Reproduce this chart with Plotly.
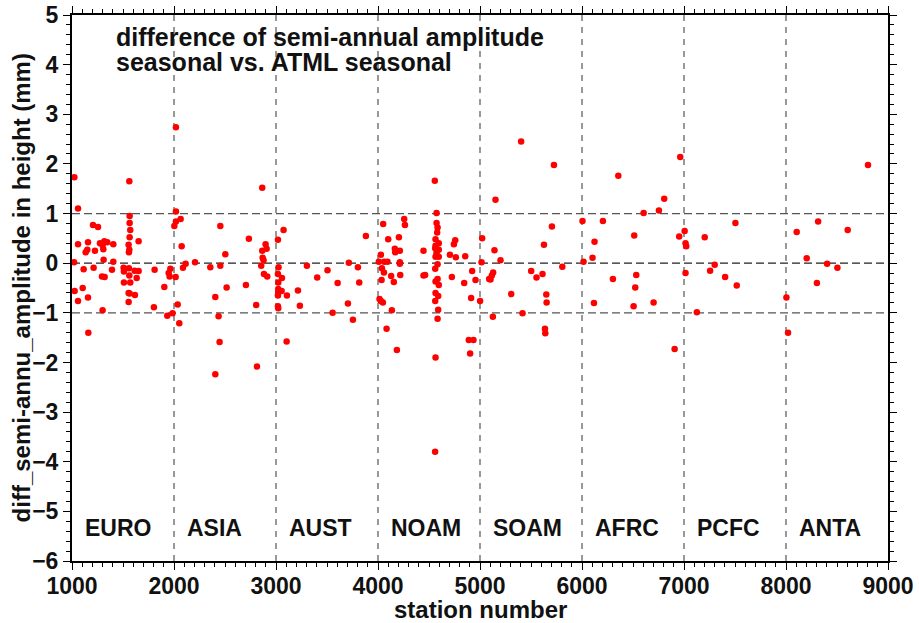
import plotly.graph_objects as go

# ---- data ----
station = [
    1023, 1059, 1562, 2019, 2865, 1020, 1059, 1026, 1059, 1105, 1114, 1157, 1160, 1134, 1150,
    1157, 1206, 1255, 1212, 1225, 1274, 1300, 1307, 1317, 1346, 1405, 1310, 1294, 1320, 1300,
    1392, 1405, 1506, 1509, 1558, 1565, 1565, 1571, 1565, 1555, 1562, 1558, 1614, 1653, 1653,
    1634, 1562, 1509, 1571, 1555, 1565, 1617, 1555, 1810, 1803, 1905, 1934, 1986, 1964, 1948,
    1957, 2016, 2036, 2052, 2003, 2019, 2065, 2019, 2075, 2088, 2114, 2206, 2356, 2454, 2503,
    2454, 2516, 2405, 2437, 2447, 2405, 2734, 2705, 2806, 2813, 2898, 2865, 2908, 2869, 2878,
    2855, 2882, 2914,
    4557, 3019, 3074, 3025, 3019, 3058, 3022, 3022, 3055, 3022, 3019, 3107, 3215, 3234, 3019,
    3022, 3104, 3303, 3404, 3505, 3604, 3555, 3714, 3705, 3754, 3803, 3816, 3881, 4051, 4257,
    4264, 4100, 4205, 4165, 4169, 4214, 4028, 4008, 4061, 4093, 4214, 4214, 4038, 4058, 4035,
    4129, 4155, 4218, 4015, 4028, 4048, 4136, 4084, 4185, 4446, 4446, 4462, 4574, 4574, 4584,
    4580, 4564, 4596, 4564, 4574, 4564, 4596, 4584, 4561, 4584, 4564, 4596, 4564, 4590, 4561,
    4590, 4584, 4564, 4596, 4561, 4574, 4705, 4744, 4757, 4763, 4724, 4855, 4845, 4923, 4956,
    4913, 5001, 5021, 5015, 4890, 4936, 4903, 5090, 4560,
    5403, 5725, 5152, 5142, 5201, 5129, 5116, 5103, 5126, 5306, 5417, 5502, 5554, 5613, 5627,
    5705, 5807, 5650, 5653, 5637, 5640, 6005, 6015, 6103, 6123, 6205, 6117, 6303, 6356, 6512,
    6532, 6522, 6506, 6604, 6702, 6754, 6806, 6963, 6953, 7006, 7015, 7022, 7015, 6908, 7126,
    8804, 7203, 7504, 7301, 7256, 7403, 7517, 8004, 8020, 8105, 8315, 8605, 8203, 8403, 8504,
    8303,
]
diff_amp = [
    1.73, 1.10, 1.65, 2.74, 1.52, 0.02, 0.38, -0.56, -0.76, -0.50, -0.12, -0.69, -1.40, 0.22, 0.27,
    0.42, 0.77, 0.73, -0.09, 0.25, 0.40, 0.36, 0.28, 0.44, 0.42, 0.38, 0.07, -0.27, -0.28, -0.95,
    -0.13, 0.03, -0.09, -0.17, -0.10, 0.95, 0.81, 0.67, 0.52, 0.37, 0.27, 0.22, -0.15, -0.16, 0.44,
    -0.30, -0.25, -0.39, -0.39, -0.60, -0.61, -0.64, -0.78, -0.13, -0.89, -0.48, -1.06, -1.01, -0.11, -0.20,
    -0.27, -0.28, -0.83, -1.21, 0.75, 0.84, 0.89, 1.04, 0.34, -0.09, -0.01, 0.02, -0.08, 0.75, 0.18,
    -0.05, -0.49, -0.68, -1.07, -1.59, -2.24, 0.49, -0.44, -0.84, -2.08, 0.38, 0.25, 0.29, 0.11, 0.06,
    -0.05, -0.22, -0.27,
    1.66, 0.47, 0.67, -0.08, -0.22, -0.30, -0.39, -0.52, -0.56, -0.59, -0.65, -0.65, -0.55, -0.86, -0.87,
    -0.91, -1.58, -0.05, -0.29, -0.14, -0.40, -1.00, 0.01, -0.81, -1.14, -0.08, -0.39, 0.55, 0.79, 0.89,
    0.77, 0.48, 0.52, 0.29, 0.22, 0.25, 0.17, 0.03, 0.03, 0.03, 0.02, -0.01, -0.10, -0.19, -0.34,
    -0.26, -0.38, -0.24, -0.72, -0.76, -0.79, -0.95, -1.32, -1.75, 0.25, -0.25, -0.24, 1.01, 0.81, 0.72,
    0.62, 0.48, 0.40, 0.35, 0.27, 0.13, 0.13, -0.02, -0.11, -0.32, -0.37, -0.44, -0.60, -0.66, -0.76,
    -0.94, -1.12, -1.90, 0.27, 0.30, 0.20, 0.17, 0.38, 0.46, 0.12, -0.28, 0.14, -0.40, -0.16, -0.34,
    -0.70, -0.76, 0.50, 0.02, -1.55, -1.55, -1.82, -0.32, -3.80,
    2.45, 1.98, 1.28, 0.26, 0.06, -0.19, -0.25, -0.33, -1.08, -0.62, -1.01, -0.16, -0.29, -0.22, 0.37,
    0.74, -0.07, -0.63, -0.79, -1.32, -1.41, 0.85, 0.03, 0.11, 0.43, 0.85, -0.80, -0.32, 1.76, 0.56,
    -0.24, -0.49, -0.87, 1.01, -0.79, 1.06, 1.30, 2.14, 0.54, 0.65, 0.40, 0.34, -0.20, -1.73, -0.99,
    1.98, 0.52, 0.81, -0.03, -0.15, -0.28, -0.45, -0.69, -1.40, 0.63, 0.84, 0.67, 0.10, -0.01, -0.09,
    -0.40,
]
region_starts = [1000, 2000, 3000, 4000, 5000, 6000, 7000, 8000]
region_names = ["EURO", "ASIA", "AUST", "NOAM", "SOAM", "AFRC", "PCFC", "ANTA"]
x_ticks = [1000, 2000, 3000, 4000, 5000, 6000, 7000, 8000, 9000]
y_ticks = [-6, -5, -4, -3, -2, -1, 0, 1, 2, 3, 4, 5]
h_lines = [-1, 0, 1]
title_lines = ["difference of semi-annual amplitude", "seasonal vs. ATML seasonal"]

FONT = "Liberation Sans, Arial, Helvetica, sans-serif"
TXT = "#111111"

fig = go.Figure()
fig.add_trace(go.Scatter(
    x=station, y=diff_amp, mode="markers",
    marker=dict(color="#ff0000", size=6.5, line=dict(width=0)),
    cliponaxis=False, showlegend=False,
))

shapes = []
for xv in region_starts[1:]:
    shapes.append(dict(type="line", xref="x", yref="paper", x0=xv, x1=xv, y0=0, y1=1,
                       line=dict(color="#333333", width=1, dash="6px,6px"), layer="below"))
for yv in h_lines:
    col = "#222222" if yv == 0 else "#555555"
    shapes.append(dict(type="line", xref="paper", yref="y", x0=0, x1=1, y0=yv, y1=yv,
                       line=dict(color=col, width=1.3, dash="8px,4px"), layer="below"))

annotations = []
for xs, name in zip(region_starts, region_names):
    annotations.append(dict(x=xs + 110, y=-5.33, xref="x", yref="y", text=name,
                            showarrow=False, xanchor="left", yanchor="middle",
                            font=dict(family=FONT, size=23, color=TXT, weight="bold")))
for i, line in enumerate(title_lines):
    annotations.append(dict(x=1410, y=4.55 - 0.5 * i, xref="x", yref="y", text=line,
                            showarrow=False, xanchor="left", yanchor="middle",
                            font=dict(family=FONT, size=25, color=TXT, weight="bold")))
annotations.append(dict(x=0.5, y=-0.088, xref="paper", yref="paper", text="station number",
                        showarrow=False, xanchor="center", yanchor="middle",
                        font=dict(family=FONT, size=24, color=TXT, weight="bold")))
annotations.append(dict(x=-0.062, y=0.5, xref="paper", yref="paper",
                        text="diff_semi-annu_amplitude in height (mm)", textangle=-90,
                        showarrow=False, xanchor="center", yanchor="middle",
                        font=dict(family=FONT, size=24, color=TXT, weight="bold")))

axis_common = dict(
    showgrid=False, zeroline=False, showline=True, linecolor="black", linewidth=2,
    mirror="ticks", ticks="outside", ticklen=7, tickwidth=1.3, tickcolor="black",
    automargin=False,
    tickfont=dict(family=FONT, size=23, color=TXT, weight="bold"),
)
fig.update_layout(
    width=919, height=623,
    margin=dict(l=72, r=31, t=15, b=62, autoexpand=False),
    plot_bgcolor="white", paper_bgcolor="white",
    xaxis=dict(range=[1000, 9000], tickvals=x_ticks, ticklabelstandoff=-4,
               minor=dict(dtick=100, ticks="outside", ticklen=4, tickcolor="black", tickwidth=1),
               **axis_common),
    yaxis=dict(range=[-6, 5], tickvals=y_ticks,
               minor=dict(dtick=0.2, ticks="outside", ticklen=4, tickcolor="black", tickwidth=1),
               **axis_common),
    shapes=shapes, annotations=annotations,
)
fig.write_html("out.html")
